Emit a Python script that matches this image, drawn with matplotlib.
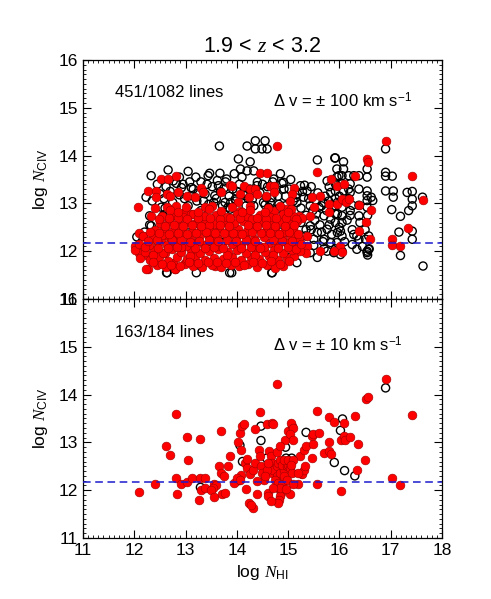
import matplotlib
matplotlib.use("Agg")
import matplotlib.pyplot as plt
from matplotlib.ticker import MultipleLocator

plt.rcParams['font.family'] = ['Liberation Sans', 'DejaVu Sans']
plt.rcParams['mathtext.fontset'] = 'custom'
plt.rcParams['mathtext.rm'] = 'Liberation Sans'
plt.rcParams['mathtext.it'] = 'Liberation Serif:italic'
plt.rcParams['mathtext.bf'] = 'Liberation Sans:bold'

# ---------------- data ----------------
title_text = r'1.9 < $z$ < 3.2'
xlabel_text = r'log $N_{\rm HI}$'
ylabel_text = r'log $N_{\rm CIV}$'
top_count_text = '451/1082 lines'
bot_count_text = '163/184 lines'
top_dv_text = 'Δ v = ± 100 km s$^{-1}$'
bot_dv_text = 'Δ v = ± 10 km s$^{-1}$'
x_ticks = [11, 12, 13, 14, 15, 16, 17, 18]
y_ticks = [11, 12, 13, 14, 15, 16]
threshold = 12.18

# top panel: all HI lines (open black circles), (log N_HI, log N_CIV)
top_all = [
    (13.66, 14.20), (12.66, 13.70), (12.33, 13.58), (13.05, 13.67), (13.47, 13.63), (13.67, 13.63),
    (13.64, 13.37), (13.80, 13.51), (12.23, 13.13), (12.30, 12.74), (12.33, 12.53), (12.56, 12.74),
    (12.82, 12.74), (12.53, 12.92), (12.92, 13.33), (13.11, 13.33), (13.57, 13.16), (13.77, 13.02),
    (13.83, 12.92), (12.63, 11.55), (13.21, 11.55), (13.86, 11.55), (13.60, 11.73), (13.70, 12.18),
    (12.46, 12.22), (12.76, 13.47), (13.11, 13.16), (13.44, 13.58),
    (14.36, 14.31), (14.55, 14.31), (14.20, 14.20), (14.36, 14.14), (14.49, 14.14), (14.59, 14.14),
    (14.03, 13.93), (14.26, 13.87), (14.07, 13.72), (14.20, 13.68), (14.33, 13.68), (15.57, 13.91),
    (15.91, 13.95), (14.72, 13.51), (14.39, 13.37), (14.91, 13.44), (15.24, 13.37), (15.37, 13.26),
    (15.76, 13.47), (15.99, 13.58), (13.97, 13.09), (14.16, 13.16), (14.33, 12.95), (14.52, 13.02),
    (14.65, 13.02), (14.78, 12.88), (14.95, 12.95), (15.17, 13.02), (15.30, 13.13), (15.43, 12.95),
    (15.60, 12.92), (15.83, 13.23), (15.79, 13.05), (15.96, 13.02), (15.70, 12.74), (15.83, 12.67),
    (15.96, 12.78), (15.43, 12.53), (15.57, 12.39), (15.76, 12.46), (15.96, 12.39), (15.34, 12.32),
    (15.50, 12.25), (15.70, 12.25), (15.83, 12.18), (15.30, 12.04), (15.43, 11.97), (15.57, 11.87),
    (15.76, 12.00), (15.89, 11.97), (14.69, 11.55), (13.90, 11.55), (15.04, 11.87), (15.17, 11.76),
    (13.87, 12.88), (13.94, 12.67),
    (16.90, 14.14), (15.92, 13.95), (16.08, 13.87), (15.95, 13.72), (16.08, 13.72), (15.95, 13.55),
    (16.05, 13.58), (16.18, 13.58), (16.28, 13.58), (16.38, 13.58), (16.54, 13.72), (16.54, 13.55),
    (16.90, 13.65), (16.90, 13.57), (17.03, 13.57), (15.92, 13.41), (16.05, 13.41), (16.21, 13.41),
    (16.18, 13.30), (15.92, 13.26), (16.08, 13.26), (16.21, 13.23), (16.38, 13.30), (16.54, 13.26),
    (16.90, 13.26), (17.05, 13.26), (17.05, 13.13), (17.32, 13.23), (17.42, 13.25), (17.42, 13.09),
    (17.42, 12.95), (17.62, 13.13), (15.92, 13.10), (16.05, 13.06), (16.18, 13.10), (16.25, 12.96),
    (16.21, 12.85), (16.21, 12.75), (16.38, 12.96), (16.38, 12.74), (16.54, 13.16), (16.54, 13.06),
    (16.54, 12.92), (16.62, 13.13), (16.65, 13.06), (15.92, 12.95), (16.05, 12.92), (15.92, 12.78),
    (16.05, 12.74), (15.92, 12.60), (16.05, 12.60), (17.02, 12.87), (17.19, 12.73), (17.35, 12.85),
    (17.16, 12.40), (17.42, 12.42), (17.42, 12.25), (16.02, 12.42), (16.05, 12.32), (16.28, 12.35),
    (16.34, 12.32), (16.38, 12.25), (16.51, 12.25), (16.57, 12.32), (16.34, 12.04), (16.54, 12.00),
    (16.54, 11.97), (16.57, 12.04), (16.02, 11.93), (16.05, 12.00), (17.19, 11.91), (17.63, 11.69),
    (15.95, 12.18), (16.25, 12.14), (12.64, 11.55), (14.68, 11.55),
    (12.35, 13.05), (12.50, 13.20), (12.62, 13.35), (12.75, 13.02), (12.88, 13.18), (12.95, 13.40),
    (13.05, 12.95), (13.15, 13.30), (13.22, 13.05), (13.30, 13.45), (13.38, 13.20), (13.45, 12.98),
    (13.52, 13.35), (13.60, 13.10), (13.68, 13.25), (13.72, 12.95), (13.78, 13.45), (13.85, 13.15),
    (13.92, 13.30), (13.98, 13.05), (14.05, 13.40), (14.12, 13.20), (14.18, 12.95), (14.25, 13.30),
    (14.30, 13.08), (14.40, 13.45), (14.45, 13.22), (14.55, 12.97), (14.60, 13.35), (14.68, 13.12),
    (14.75, 13.28), (14.82, 12.98), (14.88, 13.42), (14.95, 13.15), (15.02, 13.30), (15.10, 13.05),
    (15.18, 13.20), (15.25, 12.90), (15.32, 13.38), (15.40, 13.10), (15.48, 12.85), (15.55, 13.05),
    (15.65, 12.95), (15.72, 13.15), (15.85, 12.90), (16.00, 13.15),
    (15.25, 12.60), (15.35, 12.75), (15.45, 12.45), (15.52, 12.65), (15.62, 12.55), (15.68, 12.20),
    (15.75, 12.85), (15.85, 12.35), (15.92, 12.05), (16.00, 12.50), (16.10, 12.20), (16.15, 12.65),
    (16.25, 12.45), (16.40, 12.60), (16.45, 12.10), (16.55, 12.75), (16.50, 12.45), (16.58, 12.05),
    (16.55, 11.92), (12.65, 12.25), (13.05, 12.55), (13.50, 12.20), (13.95, 12.45), (14.40, 12.05),
    (14.85, 12.40), (15.20, 12.20), (13.72, 12.18), (12.30, 12.55), (12.20, 12.40), (12.15, 12.20),
    (12.05, 12.30), (14.10, 12.80), (14.50, 12.70), (13.30, 12.85), (12.60, 12.90),
    (12.45, 13.40), (12.58, 13.10), (12.70, 13.25), (12.82, 13.42), (12.98, 13.10), (13.08, 13.45),
    (13.25, 13.22), (13.42, 13.40), (13.55, 13.02), (13.62, 13.48), (13.75, 13.32), (13.88, 13.02),
    (14.00, 13.25), (14.10, 13.55), (14.22, 13.10), (14.35, 13.25), (14.50, 13.40), (14.58, 13.12),
    (14.70, 13.45), (14.80, 13.15), (14.92, 13.30), (15.05, 13.50), (15.15, 13.12), (15.28, 13.25),
    (15.45, 13.35), (15.58, 13.22), (15.68, 13.02), (15.80, 13.35), (13.35, 13.05), (14.62, 12.92),
    (13.95, 13.62), (14.85, 13.62), (13.20, 13.55), (12.88, 13.55), (15.35, 12.45), (15.55, 12.78),
    (15.65, 12.40), (15.80, 12.55), (15.70, 12.05), (15.50, 12.12),
]

# top panel: lines with CIV detections (red filled)
top_civ = [
    (12.07, 12.92), (12.27, 13.26), (12.43, 13.26), (12.43, 13.13), (12.53, 13.51), (12.66, 13.51),
    (12.82, 13.58), (12.63, 13.19), (12.69, 13.16), (12.85, 13.23), (13.02, 13.16), (13.18, 13.13),
    (13.31, 13.33), (13.34, 13.23), (13.38, 12.92), (13.51, 12.95), (13.70, 13.23), (13.86, 13.38),
    (12.82, 12.95), (12.63, 12.92), (12.33, 12.74), (12.10, 12.39), (12.17, 12.32), (12.07, 12.14),
    (12.01, 12.11), (12.10, 11.97), (12.27, 11.90), (12.27, 11.62), (12.46, 11.79), (12.59, 11.97),
    (12.76, 11.76), (12.79, 11.62), (12.98, 11.76), (12.59, 12.53), (12.66, 12.32), (12.53, 12.25),
    (12.98, 12.81), (13.11, 12.78), (13.21, 12.60), (13.57, 11.69), (13.18, 11.79),
    (14.78, 14.20), (14.46, 13.64), (14.59, 13.64), (15.57, 13.65), (15.83, 13.51), (15.96, 13.37),
    (13.90, 13.37), (14.13, 13.37), (14.26, 13.30), (14.36, 13.30), (14.65, 13.37), (14.72, 13.37),
    (14.07, 13.19), (14.23, 13.13), (14.39, 13.19), (14.56, 13.16), (14.72, 13.23), (15.11, 13.33),
    (15.08, 13.19), (15.04, 13.05), (15.47, 13.13), (15.63, 13.16), (15.79, 12.98), (15.79, 12.81),
    (15.96, 12.98), (14.03, 13.02), (14.26, 12.95), (14.07, 12.85), (14.72, 12.85), (14.95, 12.88),
    (15.21, 12.74), (15.27, 12.70), (15.43, 12.74), (15.50, 12.92), (15.37, 12.11), (15.34, 11.97),
    (15.63, 12.00), (16.02, 12.11), (15.89, 12.00), (15.37, 12.32),
    (16.90, 14.30), (16.54, 13.93), (16.56, 13.87), (16.30, 13.57), (17.42, 13.57), (16.08, 13.41),
    (16.05, 13.09), (16.12, 13.02), (16.18, 13.09), (16.38, 12.96), (16.62, 12.87), (17.63, 13.08),
    (16.52, 12.61), (16.38, 12.42), (17.34, 12.49), (16.60, 12.25), (17.03, 12.25), (17.03, 12.12),
    (17.19, 12.11), (16.05, 11.98),
    (12.23, 11.62), (12.45, 11.72), (12.62, 11.66), (12.79, 11.62), (12.98, 11.74), (13.15, 11.70),
    (13.33, 11.67), (13.52, 11.72), (13.70, 11.66), (13.88, 11.71), (14.05, 11.68), (14.22, 11.74),
    (14.40, 11.66), (14.58, 11.71), (14.75, 11.64), (14.90, 11.70),
    (12.12, 11.86), (12.30, 11.82), (12.48, 11.88), (12.66, 11.80), (12.84, 11.87), (13.02, 11.83),
    (13.19, 11.89), (13.37, 11.81), (13.56, 11.86), (13.73, 11.84), (13.91, 11.88), (14.09, 11.81),
    (14.27, 11.87), (14.44, 11.83), (14.62, 11.89), (14.80, 11.82), (14.98, 11.86), (15.12, 11.90),
    (12.02, 12.03), (12.20, 11.98), (12.38, 12.02), (12.56, 11.97), (12.74, 12.04), (12.92, 11.99),
    (13.10, 12.03), (13.28, 11.96), (13.46, 12.01), (13.64, 12.05), (13.82, 11.98), (14.00, 12.02),
    (14.18, 11.97), (14.36, 12.04), (14.54, 11.99), (14.72, 12.03), (14.90, 11.96), (15.08, 12.02),
    (15.24, 12.00),
    (12.10, 12.16), (12.28, 12.12), (12.46, 12.18), (12.64, 12.14), (12.82, 12.19), (13.00, 12.11),
    (13.18, 12.17), (13.36, 12.13), (13.54, 12.18), (13.90, 12.16), (14.08, 12.14), (14.26, 12.19),
    (14.44, 12.11), (14.62, 12.17), (14.80, 12.13), (14.98, 12.18), (15.15, 12.12),
    (12.18, 12.31), (12.36, 12.27), (12.54, 12.33), (12.72, 12.28), (12.90, 12.32), (13.08, 12.26),
    (13.26, 12.30), (13.44, 12.34), (13.62, 12.27), (13.80, 12.31), (13.98, 12.29), (14.16, 12.33),
    (14.34, 12.26), (14.52, 12.30), (14.70, 12.34), (14.88, 12.28), (15.06, 12.31), (15.22, 12.27),
    (12.40, 12.44), (12.58, 12.48), (12.76, 12.42), (12.94, 12.47), (13.12, 12.41), (13.30, 12.46),
    (13.48, 12.43), (13.66, 12.49), (13.84, 12.44), (14.02, 12.47), (14.20, 12.42), (14.38, 12.48),
    (14.56, 12.43), (14.74, 12.46), (14.92, 12.41), (15.10, 12.47),
    (12.50, 12.58), (12.68, 12.63), (12.86, 12.57), (13.04, 12.62), (13.22, 12.59), (13.40, 12.64),
    (13.58, 12.57), (13.76, 12.61), (13.94, 12.60), (14.12, 12.63), (14.30, 12.58), (14.48, 12.62),
    (14.66, 12.57), (14.84, 12.61), (15.02, 12.59), (15.18, 12.63),
    (12.55, 12.74), (12.75, 12.77), (12.95, 12.72), (13.15, 12.78), (13.35, 12.73), (13.60, 12.76),
    (13.80, 12.71), (14.00, 12.78), (14.20, 12.74), (14.45, 12.76), (14.65, 12.72), (14.90, 12.77),
    (15.10, 12.73),
    (12.40, 12.90), (12.70, 12.86), (13.00, 12.92), (13.45, 12.88), (13.90, 12.93), (14.25, 12.87),
    (14.60, 12.90), (14.85, 12.95), (15.05, 12.89),
    (12.91, 12.08), (13.27, 12.22), (13.63, 12.10), (14.17, 12.24), (14.53, 12.09), (14.89, 12.22),
    (13.09, 11.91), (13.81, 11.92), (14.35, 11.92), (14.71, 11.93), (12.37, 11.93), (12.73, 12.23),
    (13.45, 12.55), (14.03, 12.37), (14.75, 12.52), (12.85, 12.51), (13.57, 12.38), (14.30, 12.68),
    (12.36, 11.77), (12.54, 11.74), (12.72, 11.71), (12.90, 11.69), (13.06, 11.78), (13.24, 11.75),
    (13.44, 11.77), (13.61, 11.78), (13.79, 11.76), (13.97, 11.77), (14.14, 11.71), (14.31, 11.78),
    (14.49, 11.76), (14.67, 11.79), (14.84, 11.74), (15.02, 11.79),
    (12.21, 12.08), (12.47, 12.07), (12.65, 12.06), (12.83, 12.09), (13.19, 12.07), (13.37, 12.06),
    (13.55, 12.09), (13.73, 12.07), (14.09, 12.06), (14.27, 12.09), (14.45, 12.07), (14.81, 12.06),
    (14.99, 12.09), (15.16, 12.05),
    (12.27, 12.22), (12.45, 12.24), (12.91, 12.23), (13.09, 12.20), (13.45, 12.23), (13.63, 12.21),
    (13.81, 12.23), (13.99, 12.22), (14.35, 12.21), (14.71, 12.23), (15.07, 12.21), (15.25, 12.16),
    (12.31, 12.40), (12.49, 12.38), (12.67, 12.37), (12.85, 12.39), (13.03, 12.37), (13.21, 12.38),
    (13.39, 12.40), (13.75, 12.38), (13.93, 12.39), (14.11, 12.37), (14.29, 12.40), (14.47, 12.38),
    (14.65, 12.39), (14.83, 12.37), (15.01, 12.40), (15.19, 12.37),
    (12.49, 12.68), (12.67, 12.70), (12.85, 12.69), (13.03, 12.68), (13.25, 12.69), (13.47, 12.70),
    (13.67, 12.68), (13.87, 12.69), (14.07, 12.70), (14.40, 12.69), (14.57, 12.67), (14.76, 12.69),
    (14.96, 12.70), (15.15, 12.68),
    (12.59, 12.53), (12.77, 12.54), (12.95, 12.52), (13.13, 12.54), (13.31, 12.53), (13.67, 12.54),
    (13.85, 12.52), (14.21, 12.54), (14.39, 12.52), (14.57, 12.54), (14.93, 12.52), (15.11, 12.55),
    (12.85, 12.82), (13.25, 12.83), (13.70, 12.84), (14.10, 12.82), (14.55, 12.83), (15.00, 12.82),
]

# bottom panel: all HI lines (open black circles)
bot_all = [
    (16.90, 14.14), (14.47, 13.34), (14.47, 13.04), (14.06, 12.94), (14.11, 12.60), (14.03, 12.20),
    (14.58, 12.67), (14.95, 12.90), (14.96, 12.67), (15.07, 12.67), (15.27, 12.34), (15.35, 13.21),
    (16.06, 13.49), (16.02, 13.25), (15.90, 12.58), (16.10, 12.41), (16.30, 12.30), (13.29, 12.06),
]

# bottom panel: lines with CIV detections (red filled)
bot_civ = [
    (12.10, 11.96), (12.40, 12.14), (12.61, 12.92), (12.70, 12.73), (12.82, 13.60), (12.82, 12.25),
    (12.84, 11.91), (12.91, 12.14), (13.03, 13.12), (13.05, 12.64), (13.03, 12.17), (13.13, 12.25),
    (13.29, 13.07), (13.29, 12.25), (13.38, 12.25), (13.26, 11.80), (13.31, 12.01), (13.38, 12.04),
    (13.56, 12.12), (13.60, 12.10), (13.54, 12.04), (13.49, 12.00), (13.56, 11.85), (13.69, 13.24),
    (13.66, 12.50), (13.70, 12.36), (13.75, 12.29), (13.72, 11.93), (13.77, 11.94), (13.83, 12.50),
    (13.86, 12.71), (13.94, 12.15), (14.03, 13.00), (14.06, 13.20), (14.11, 13.34), (14.14, 13.38),
    (14.09, 12.85), (14.16, 12.57), (14.19, 12.47), (14.09, 12.31), (14.00, 12.25), (14.06, 12.22),
    (14.17, 12.02), (14.24, 11.74), (14.31, 11.63), (14.27, 11.70), (14.26, 12.33), (14.32, 12.43),
    (14.35, 12.57), (14.35, 13.27), (14.39, 11.91), (14.45, 13.63), (14.44, 12.85), (14.48, 12.50),
    (14.50, 12.36), (14.52, 12.22), (14.58, 13.38), (14.68, 13.40), (14.71, 13.38), (14.63, 12.82),
    (14.66, 12.71), (14.68, 12.57), (14.61, 11.95), (14.61, 11.87), (14.68, 12.36), (14.71, 12.43),
    (14.78, 12.50), (14.81, 12.57), (14.84, 12.64), (14.78, 12.29), (14.74, 12.22), (14.81, 12.15),
    (14.88, 12.12), (14.84, 12.36), (14.91, 12.43), (14.88, 12.53), (14.97, 12.50), (15.00, 12.53),
    (15.04, 12.47), (15.07, 12.36), (14.92, 12.29), (14.97, 12.22), (14.78, 14.22), (14.84, 12.01),
    (14.86, 11.94), (14.84, 11.87), (14.83, 11.80), (14.81, 11.74), (14.84, 12.04), (14.66, 11.77),
    (14.94, 13.06), (15.00, 13.24), (15.07, 13.34), (15.05, 13.40), (15.10, 13.31), (15.04, 13.17),
    (15.09, 13.06), (15.04, 11.91), (15.20, 12.12), (15.10, 12.12), (15.23, 12.71), (15.30, 12.85),
    (15.35, 12.92), (15.27, 12.33), (15.30, 12.43), (15.33, 12.50), (15.46, 13.13), (15.49, 13.17),
    (15.48, 12.96), (15.47, 12.68), (15.56, 13.66), (15.56, 12.13), (15.61, 13.20), (15.69, 12.78),
    (15.79, 12.82), (15.83, 12.75), (15.79, 13.53), (15.79, 13.00), (15.90, 13.42), (16.08, 13.41),
    (16.04, 11.98), (16.04, 13.06), (16.08, 13.13), (16.11, 13.06), (16.20, 13.11), (16.31, 13.56),
    (16.36, 12.97), (16.34, 12.43), (16.50, 12.63), (16.52, 13.90), (16.55, 13.96), (16.90, 14.32),
    (17.03, 12.25), (17.18, 12.11), (17.42, 13.57), (14.78, 12.79), (14.84, 12.92), (14.58, 12.43),
    (14.55, 12.29), (14.61, 12.57), (14.45, 12.71), (14.92, 12.64), (15.00, 12.64), (15.10, 12.64),
    (15.05, 12.53), (15.20, 12.36), (14.20, 12.66), (14.40, 12.20), (14.70, 12.05), (14.95, 12.02),
]

# ---------------- figure ----------------
fig = plt.figure(figsize=(4.91, 5.99), dpi=100)
ax1 = fig.add_axes([0.169, 0.50083, 0.7312, 0.3990])
ax2 = fig.add_axes([0.169, 0.10184, 0.7312, 0.3990])

open_kw = dict(marker='o', s=34, facecolors='none', edgecolors='black', linewidths=1.0, zorder=2)
red_kw = dict(marker='o', s=40, facecolors='#ff0000', edgecolors='#9a0000', linewidths=0.4, zorder=3)

panels = [
    (ax1, top_all, top_civ, top_count_text, top_dv_text, (11.62, 15.31), (14.71, 15.14)),
    (ax2, bot_all, bot_civ, bot_count_text, bot_dv_text, (11.62, 15.29), (14.71, 15.04)),
]

for ax, alld, civd, ctext, dvtext, cpos, dvpos in panels:
    ax.scatter([p[0] for p in alld], [p[1] for p in alld], **open_kw)
    ax.scatter([p[0] for p in civd], [p[1] for p in civd], **red_kw)
    ax.axhline(threshold, color='#1a1acc', ls=(0, (5, 3)), lw=1.1, zorder=4)
    ax.set_xlim(x_ticks[0], x_ticks[-1])
    ax.set_ylim(y_ticks[0], y_ticks[-1])
    ax.set_xticks(x_ticks)
    ax.set_yticks(y_ticks)
    ax.xaxis.set_minor_locator(MultipleLocator(0.1))
    ax.yaxis.set_minor_locator(MultipleLocator(0.1))
    ax.tick_params(which='both', direction='in', top=True, right=True, labelsize=12.5)
    ax.tick_params(which='major', length=6, width=0.8)
    ax.tick_params(which='minor', length=2.5, width=0.6)
    for sp in ax.spines.values():
        sp.set_linewidth(0.9)
    ax.set_ylabel(ylabel_text, fontsize=12.5, labelpad=6)
    ax.text(cpos[0], cpos[1], ctext, fontsize=12, ha='left', va='center')
    ax.text(dvpos[0], dvpos[1], dvtext, fontsize=12, ha='left', va='center')

ax1.tick_params(labelbottom=False)
ax2.set_xlabel(xlabel_text, fontsize=12.5, labelpad=4)
ax1.set_title(title_text, fontsize=15.5, pad=6)

fig.savefig('out.png', dpi=100)
